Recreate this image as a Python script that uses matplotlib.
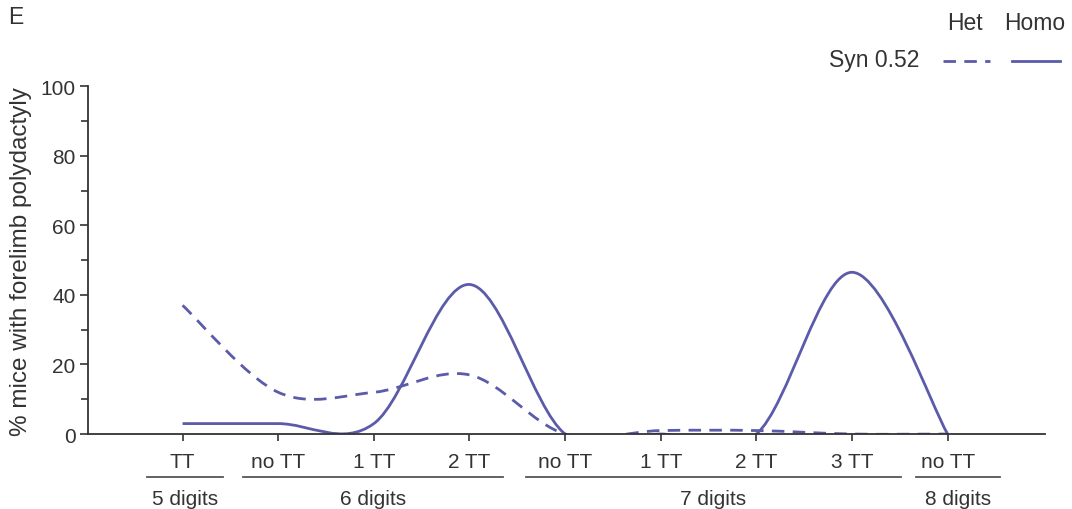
import matplotlib
matplotlib.use("Agg")
import matplotlib.pyplot as plt
import numpy as np
from matplotlib.path import Path
from matplotlib.patches import PathPatch
from matplotlib.lines import Line2D

# ---- data ----
categories = ["TT", "no TT", "1 TT", "2 TT", "no TT", "1 TT", "2 TT", "3 TT", "no TT"]
groups = ["5 digits", "6 digits", "7 digits", "8 digits"]
group_members = [[0], [1, 2, 3], [4, 5, 6, 7], [8]]
het = [37, 12, 12, 17, 0, 1, 1, 0, 0]
homo = [3, 3, 3, 43, 0, 0, 0, 46.5, 0]
series_name = "Syn 0.52"
yticks = [0, 20, 40, 60, 80, 100]

# ---- style ----
color = "#5b5baa"
txt = "#333333"
plt.rcParams["font.family"] = ["Liberation Sans", "DejaVu Sans"]
fs_tick = 15
fs_cat = 15
fs_ylab = 17.5
fs_leg = 16.5

fig = plt.figure(figsize=(10.72, 5.10), dpi=100)
ax = fig.add_axes([0.082, 0.147, 0.893, 0.682])


def smooth_path(xs, ys):
    xs = np.asarray(xs, float)
    ys = np.asarray(ys, float)
    n = len(xs)
    mx = np.empty(n)
    my = np.empty(n)
    for i in range(n):
        a = max(i - 1, 0)
        b = min(i + 1, n - 1)
        mx[i] = (xs[b] - xs[a]) / 2
        my[i] = (ys[b] - ys[a]) / 2
    verts = [(xs[0], ys[0])]
    codes = [Path.MOVETO]
    for i in range(n - 1):
        verts += [(xs[i] + mx[i] / 3, ys[i] + my[i] / 3),
                  (xs[i + 1] - mx[i + 1] / 3, ys[i + 1] - my[i + 1] / 3),
                  (xs[i + 1], ys[i + 1])]
        codes += [Path.CURVE4] * 3
    return Path(verts, codes)


x = np.arange(len(categories))
ax.add_patch(PathPatch(smooth_path(x, het), fill=False, edgecolor=color,
                       lw=2.0, linestyle=(0, (4.5, 3)), capstyle="butt"))
ax.add_patch(PathPatch(smooth_path(x, homo), fill=False, edgecolor=color, lw=2.0))

ax.set_xlim(-0.99, 9.02)
ax.set_ylim(0, 100)
for s in ["top", "right"]:
    ax.spines[s].set_visible(False)
for s in ["left", "bottom"]:
    ax.spines[s].set_color(txt)
    ax.spines[s].set_linewidth(1.3)
ax.set_yticks(yticks)
ax.set_yticks(np.arange(10, 100, 20), minor=True)
ax.tick_params(axis="y", which="major", length=6, width=1.2, color=txt,
               labelsize=fs_tick, labelcolor=txt, pad=3)
ax.tick_params(axis="y", which="minor", length=5, width=1.2, color=txt)
ax.set_xticks(x)
ax.set_xticklabels([""] * len(x))
ax.tick_params(axis="x", length=5, width=1.2, color=txt)
ax.set_ylabel("% mice with forelimb polydactyly", fontsize=fs_ylab, color=txt, labelpad=6)

# category labels and group labels
trans = ax.get_xaxis_transform()
for xi, c in zip(x, categories):
    ax.text(xi, -0.08, c, transform=trans, ha="center", va="center",
            fontsize=fs_cat, color=txt)
line_ext = [(-0.37, 0.42), (-0.37, 0.35), (-0.41, 0.51), (-0.33, 0.55)]
for g, mem, (l, r) in zip(groups, group_members, line_ext):
    x0, x1 = mem[0] + l, mem[-1] + r
    ax.add_line(Line2D([x0, x1], [-0.124, -0.124], transform=trans,
                       color="#555555", lw=1.3, clip_on=False))
    ax.text((x0 + x1) / 2, -0.186, g, transform=trans, ha="center",
            va="center", fontsize=fs_cat, color=txt)

# panel letter
fig.text(0.008, 0.966, "E", fontsize=fs_leg, color=txt, ha="left", va="center")

# legend
W, H = 1072, 510
fig.text(965 / W, 1 - 24 / H, "Het", fontsize=fs_leg, color=txt, ha="center", va="center")
fig.text(1035 / W, 1 - 24 / H, "Homo", fontsize=fs_leg, color=txt, ha="center", va="center")
fig.text(919 / W, 1 - 61 / H, series_name, fontsize=fs_leg, color=txt, ha="right", va="center")
fig.add_artist(Line2D([943 / W, 990 / W], [1 - 62 / H] * 2, color=color, lw=2.0,
                      linestyle=(0, (4.5, 3))))
fig.add_artist(Line2D([1012 / W, 1060 / W], [1 - 62 / H] * 2, color=color, lw=2.0))

fig.savefig("out.png", dpi=100)
